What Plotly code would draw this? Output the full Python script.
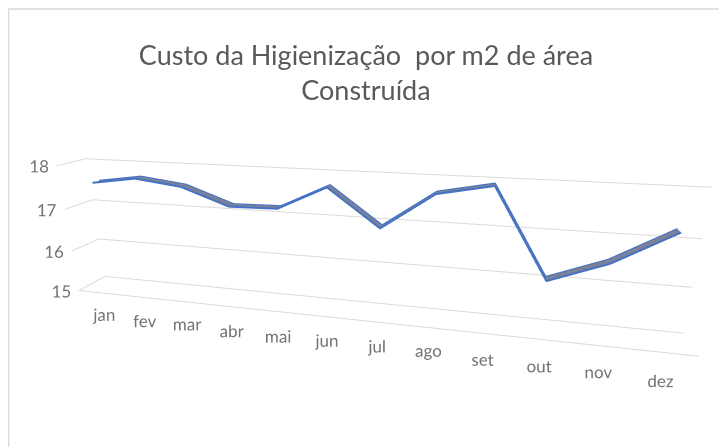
import math
import numpy as np
import plotly.graph_objects as go

months = ["jan", "fev", "mar", "abr", "mai", "jun", "jul", "ago", "set", "out", "nov", "dez"]
custo = [17.57, 17.72, 17.59, 17.21, 17.23, 17.75, 16.95, 17.73, 17.95, 16.10, 16.56, 17.26]
z_ticks = [15, 16, 17, 18]

W, H = 727, 447
GRAY = "#d9d9d9"
TXT = "#737373"
BLUE = "#4472c4"
FACE = "#7c8099"

# ---- 3D view settings (world units = px at look-at distance) ----
PAD = 0.5060
XR = [-PAD, len(months) - 1 + PAD]
ZR = [14.0, 18.0]
LABEL_Z = 14.3917
VLABEL_DX = 0.2  # nudge for the value labels along the category axis
BOX = (942.86, 63.872, 282.214)
AZ, EL, DIST = 0.24003, 0.29466, 898.26
LOOK = np.array([-11.859, 100.763, 38.804])
PAN_PX = 8.0  # small pan so the plot sits where it should on the page

xi = list(range(len(months)))
front_y, back_y = 0.38, 0.62

d = np.array([math.sin(AZ) * math.cos(EL), -math.cos(AZ) * math.cos(EL), math.sin(EL)])
eye_w = LOOK + DIST * d
Fw = -d
Rw = np.array([Fw[1], -Fw[0], 0.0]); Rw /= np.linalg.norm(Rw)
Uw = np.cross(Rw, Fw)
fpx = (H / 2) / math.tan(math.pi / 8)
Fn = Fw + (PAN_PX / fpx) * Rw - (PAN_PX / fpx) * Uw
Fn /= np.linalg.norm(Fn)
look_w = eye_w + DIST * Fn
u = 1 / 250

fig = go.Figure()
# ribbon face
vx, vy, vz = [], [], []
for i, v in zip(xi, custo):
    vx += [i, i]
    vy += [front_y, back_y]
    vz += [v, v]
I, J, K = [], [], []
for s in range(len(xi) - 1):
    a, b, c, e = 2 * s, 2 * s + 1, 2 * s + 2, 2 * s + 3
    I += [a, b]
    J += [b, e]
    K += [c, c]
fig.add_trace(go.Mesh3d(x=vx, y=vy, z=vz, i=I, j=J, k=K, color=FACE,
                        flatshading=True, lighting=dict(ambient=1, diffuse=0, specular=0, fresnel=0),
                        hoverinfo="skip", showscale=False))
for yy in (front_y, back_y):
    fig.add_trace(go.Scatter3d(x=xi, y=[yy] * len(xi), z=custo, mode="lines",
                               line=dict(color=BLUE, width=4), hoverinfo="skip", showlegend=False))
# floor front edge
fig.add_trace(go.Scatter3d(x=XR, y=[0, 0], z=[z_ticks[0]] * 2, mode="lines",
                           line=dict(color=GRAY, width=2), hoverinfo="skip", showlegend=False))
# category labels
fig.add_trace(go.Scatter3d(x=xi, y=[0] * len(xi), z=[LABEL_Z] * len(xi), mode="text", text=months,
                           textposition="middle center",
                           textfont=dict(family="Lato", size=17, color=TXT), hoverinfo="skip", showlegend=False))
# value labels
fig.add_trace(go.Scatter3d(x=[XR[0] + VLABEL_DX] * len(z_ticks), y=[0] * len(z_ticks), z=z_ticks, mode="text",
                           text=[str(t) for t in z_ticks], textposition="middle left",
                           textfont=dict(family="Lato", size=17, color=TXT), hoverinfo="skip", showlegend=False))

axcommon = dict(showbackground=False, showspikes=False, title=dict(text=""), zeroline=False, ticks="",
                showline=False)
fig.update_layout(
    width=W, height=H,
    margin=dict(l=0, r=0, t=0, b=0),
    paper_bgcolor="white",
    showlegend=False,
    title=dict(text="Custo da Higienização  por m2 de área<br>Construída", x=0.4924, xref="container",
               y=(447 - 57) / 447, yref="container", xanchor="center", yanchor="top",
               font=dict(family="Lato", size=27, color="#595959")),
    scene=dict(
        domain=dict(x=[0, 1], y=[0, 1]),
        aspectmode="manual", aspectratio=dict(x=BOX[0] * u, y=BOX[1] * u, z=BOX[2] * u),
        camera=dict(eye=dict(x=eye_w[0] * u, y=eye_w[1] * u, z=eye_w[2] * u),
                    center=dict(x=look_w[0] * u, y=look_w[1] * u, z=look_w[2] * u), up=dict(x=0, y=0, z=1),
                    projection=dict(type="perspective")),
        xaxis=dict(range=XR, showgrid=False, showticklabels=False, **axcommon),
        yaxis=dict(range=[0, 1], showgrid=False, showticklabels=False, **axcommon),
        zaxis=dict(range=ZR, tickvals=z_ticks, showgrid=True, gridcolor=GRAY, gridwidth=2,
                   showticklabels=False, **axcommon),
    ),
    shapes=[dict(type="rect", xref="paper", yref="paper", x0=0.5 / W, x1=1.05, y0=6 / H, y1=1 - 1 / H,
                 line=dict(color=GRAY, width=1.5))],
)
fig.write_html("out.html")
